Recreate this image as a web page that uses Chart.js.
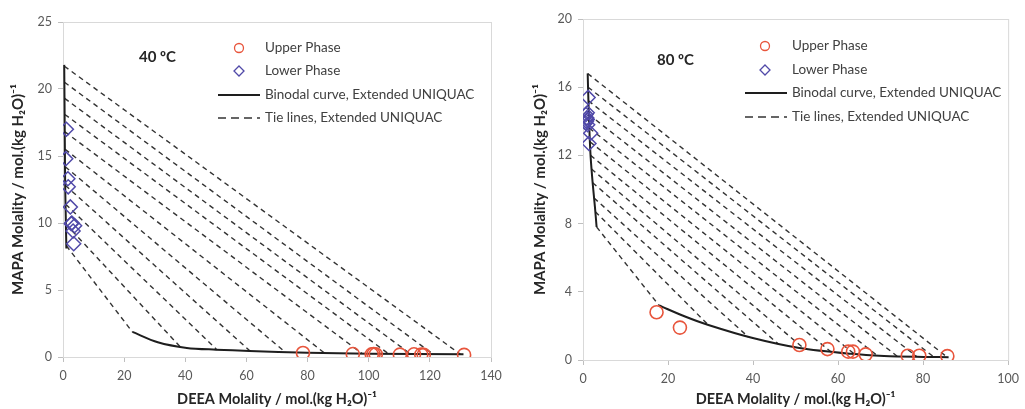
<!DOCTYPE html>
<html>
<head>
<meta charset="utf-8">
<script src="https://cdn.jsdelivr.net/npm/chart.js@4.4.1/dist/chart.umd.min.js"></script>
<style>
  body { margin: 0; background: #fff; }
  .panel { position: absolute; top: 0; height: 409px; }
  #panel40 { left: 0; width: 512px; }
  #panel80 { left: 512px; width: 513px; }
</style>
</head>
<body>
<div class="panel" id="panel40"><canvas id="chart40"></canvas></div>
<div class="panel" id="panel80"><canvas id="chart80"></canvas></div>
<script>
// ---- 40 °C ----
const upper40X = [78.5, 94.8, 101.0, 101.6, 102.3, 110.2, 114.8, 117.2, 118.0, 131.2];
const upper40Y = [0.30, 0.22, 0.20, 0.22, 0.20, 0.18, 0.20, 0.18, 0.16, 0.16];
const lower40X = [1.1, 0.9, 1.6, 1.7, 2.4, 2.7, 3.8, 3.3, 3.5, 2.9];
const lower40Y = [17.0, 14.8, 13.3, 12.7, 11.2, 9.95, 9.8, 9.4, 8.45, 10.0];
// binodal curve, two branches
const binodal40LeftX = [0.4, 0.5, 0.6, 0.7, 0.9, 1.1];
const binodal40LeftY = [21.8, 19.0, 16.0, 13.0, 10.5, 8.1];
const binodal40LowX = [22.7, 31, 40.5, 50, 61, 80, 100, 131];
const binodal40LowY = [1.87, 1.1, 0.68, 0.55, 0.45, 0.32, 0.25, 0.2];
// tie line end points
const tie40LowerX = [0.45, 0.5, 0.55, 0.6, 0.65, 0.7, 0.75, 0.8, 0.9, 1.0, 1.1];
const tie40LowerY = [21.7, 20.5, 19.3, 18.1, 16.8, 15.5, 14.2, 12.8, 11.4, 9.9, 8.3];
const tie40UpperX = [130, 121, 113.7, 106.5, 97.8, 85.5, 72.7, 61.2, 50.3, 38.5, 22.7];
const tie40UpperY = [0.2, 0.22, 0.22, 0.24, 0.26, 0.3, 0.36, 0.45, 0.55, 0.72, 1.87];

// ---- 80 °C ----
const upper80X = [17.3, 22.8, 50.9, 57.5, 62.4, 63.5, 66.5, 76.4, 79.1, 85.7];
const upper80Y = [2.8, 1.9, 0.88, 0.64, 0.49, 0.49, 0.33, 0.25, 0.25, 0.23];
const lower80X = [1.2, 1.0, 0.9, 0.6, 1.1, 1.8, 1.4, 0.8, 1.0, 0.7];
const lower80Y = [15.4, 14.5, 14.2, 13.9, 13.8, 13.3, 12.7, 14.0, 14.1, 14.4];
const binodal80LeftX = [1.1, 1.3, 1.5, 1.8, 2.3, 2.8, 3.2];
const binodal80LeftY = [16.8, 15.0, 13.5, 11.9, 10.3, 9.0, 7.8];
const binodal80LowX = [17.9, 24, 29.5, 39.7, 50.9, 63, 70.8, 81.3, 86];
const binodal80LowY = [3.2, 2.55, 2.05, 1.3, 0.7, 0.36, 0.24, 0.18, 0.16];
const tie80LowerX = [1.1, 1.2, 1.28, 1.38, 1.49, 1.63, 1.78, 2.0, 2.27, 2.6, 2.9, 3.2];
const tie80LowerY = [16.8, 16.0, 15.2, 14.4, 13.6, 12.8, 12.0, 11.2, 10.4, 9.5, 8.7, 7.8];
const tie80UpperX = [85.5, 82.4, 78.5, 73.9, 69.2, 63.8, 58.3, 52.1, 45.9, 38.9, 29.5, 17.9];
const tie80UpperY = [0.2, 0.2, 0.2, 0.22, 0.26, 0.36, 0.48, 0.65, 0.95, 1.35, 2.05, 3.2];

const legendLabels = ['Upper Phase', 'Lower Phase', 'Binodal curve, Extended UNIQUAC', 'Tie lines, Extended UNIQUAC'];
const xTitle = 'DEEA Molality / mol.(kg H\u2082O)\u207B\u00B9';
const yTitle = 'MAPA Molality / mol.(kg H\u2082O)\u207B\u00B9';

const UPPER_COLOR = '#e8553c';
const LOWER_COLOR = '#5049a8';
const LINE_COLOR = '#1e1e1e';
const TIE_COLOR = '#333333';
const AXIS_COLOR = '#bfbfbf';

Chart.defaults.font.family = 'Lato, "Open Sans", sans-serif';
Chart.defaults.color = '#595959';

function zip(xs, ys) {
    return xs.map(function(x, i) { return {x: x, y: ys[i]}; });
}

// light box around the plot area
var plotFrame = {
    id: 'plotFrame',
    beforeDatasetsDraw: function(chart) {
        var a = chart.chartArea, ctx = chart.ctx;
        ctx.save();
        ctx.strokeStyle = '#d9d9d9';
        ctx.lineWidth = 1;
        ctx.strokeRect(a.left + 0.5, a.top + 0.5, a.right - a.left, a.bottom - a.top);
        ctx.restore();
    }
};

// temperature label and legend inside the plot
var phaseLegend = {
    id: 'phaseLegend',
    afterDraw: function(chart, args, opts) {
        var ctx = chart.ctx;
        ctx.save();
        ctx.textBaseline = 'middle';
        ctx.font = 'bold 15px Lato';
        ctx.fillStyle = '#262626';
        ctx.fillText(opts.temp, opts.tempX, opts.tempY);

        ctx.font = '13.5px Lato';
        ctx.fillStyle = '#404040';
        var x = opts.x, mx = opts.markerX;
        opts.rows.forEach(function(y, i) {
            ctx.fillText(legendLabels[i], x, y);
        });
        ctx.lineWidth = 1.3;
        // circle
        ctx.strokeStyle = UPPER_COLOR;
        ctx.beginPath();
        ctx.arc(mx, opts.rows[0], 4.5, 0, Math.PI * 2);
        ctx.stroke();
        // diamond
        ctx.strokeStyle = LOWER_COLOR;
        ctx.beginPath();
        ctx.moveTo(mx, opts.rows[1] - 5);
        ctx.lineTo(mx + 5, opts.rows[1]);
        ctx.lineTo(mx, opts.rows[1] + 5);
        ctx.lineTo(mx - 5, opts.rows[1]);
        ctx.closePath();
        ctx.stroke();
        // solid and dashed lines
        ctx.strokeStyle = LINE_COLOR;
        ctx.lineWidth = 2;
        ctx.beginPath();
        ctx.moveTo(opts.lineFrom, opts.rows[2]);
        ctx.lineTo(opts.lineTo, opts.rows[2]);
        ctx.stroke();
        ctx.strokeStyle = TIE_COLOR;
        ctx.lineWidth = 1.4;
        ctx.setLineDash([8, 5]);
        ctx.beginPath();
        ctx.moveTo(opts.lineFrom, opts.rows[3]);
        ctx.lineTo(opts.lineTo, opts.rows[3]);
        ctx.stroke();
        ctx.restore();
    }
};

function buildChart(canvasId, d, box) {
    var datasets = [{
        label: legendLabels[0],
        data: zip(d.upperX, d.upperY),
        pointStyle: 'circle',
        pointRadius: 6.5,
        pointBorderWidth: 1.6,
        pointBorderColor: UPPER_COLOR,
        pointBackgroundColor: 'rgba(0,0,0,0)'
    }, {
        label: legendLabels[1],
        data: zip(d.lowerX, d.lowerY),
        pointStyle: 'rectRot',
        pointRadius: 7,
        pointBorderWidth: 1.5,
        pointBorderColor: LOWER_COLOR,
        pointBackgroundColor: 'rgba(0,0,0,0)'
    }, {
        label: legendLabels[2],
        data: zip(d.binLeftX, d.binLeftY),
        showLine: true,
        borderColor: LINE_COLOR,
        borderWidth: 2,
        pointRadius: 0,
        tension: 0.3
    }, {
        label: legendLabels[2],
        data: zip(d.binLowX, d.binLowY),
        showLine: true,
        borderColor: LINE_COLOR,
        borderWidth: 2,
        pointRadius: 0,
        tension: 0.3
    }];
    for (var i = 0; i < d.tieLowerX.length; i++) {
        datasets.push({
            label: legendLabels[3],
            data: [{x: d.tieLowerX[i], y: d.tieLowerY[i]}, {x: d.tieUpperX[i], y: d.tieUpperY[i]}],
            showLine: true,
            borderColor: TIE_COLOR,
            borderWidth: 1.4,
            borderDash: [5, 4],
            pointRadius: 0
        });
    }

    return new Chart(document.getElementById(canvasId).getContext('2d'), {
        type: 'scatter',
        data: {datasets: datasets},
        plugins: [plotFrame, phaseLegend],
        options: {
            responsive: true,
            maintainAspectRatio: false,
            animation: false,
            layout: {padding: {left: 0, right: box.padRight, top: box.padTop, bottom: 0}},
            plugins: {
                legend: {display: false},
                tooltip: {enabled: false},
                phaseLegend: box.legend
            },
            scales: {
                x: {
                    type: 'linear',
                    min: 0,
                    max: d.xMax,
                    ticks: {stepSize: 20, padding: 6, font: {size: 12.5}},
                    grid: {drawOnChartArea: false, tickLength: 5, color: AXIS_COLOR},
                    border: {color: AXIS_COLOR},
                    title: {display: true, text: xTitle, color: '#262626', padding: {top: 0, bottom: 1},
                            font: {size: 14.5, weight: 'bold'}},
                    afterFit: function(scale) { scale.height = box.xHeight; }
                },
                y: {
                    type: 'linear',
                    min: 0,
                    max: d.yMax,
                    ticks: {stepSize: d.yStep, padding: 6, font: {size: 12.5}},
                    grid: {drawOnChartArea: false, tickLength: 5, color: AXIS_COLOR},
                    border: {color: AXIS_COLOR},
                    title: {display: true, text: yTitle, color: '#262626', padding: {top: box.yTitlePad, bottom: 0},
                            font: {size: 15, weight: 'bold'}},
                    afterFit: function(scale) { scale.width = box.yWidth; }
                }
            }
        }
    });
}

var chart40 = buildChart('chart40', {
    upperX: upper40X, upperY: upper40Y, lowerX: lower40X, lowerY: lower40Y,
    binLeftX: binodal40LeftX, binLeftY: binodal40LeftY, binLowX: binodal40LowX, binLowY: binodal40LowY,
    tieLowerX: tie40LowerX, tieLowerY: tie40LowerY, tieUpperX: tie40UpperX, tieUpperY: tie40UpperY,
    xMax: 140, yMax: 25, yStep: 5
}, {
    padRight: 21, padTop: 22, xHeight: 52, yWidth: 63, yTitlePad: 9,
    legend: {temp: '40 \u00BAC', tempX: 139, tempY: 57, x: 265, markerX: 239,
             rows: [48, 71, 95, 118], lineFrom: 218, lineTo: 260}
});

var chart80 = buildChart('chart80', {
    upperX: upper80X, upperY: upper80Y, lowerX: lower80X, lowerY: lower80Y,
    binLeftX: binodal80LeftX, binLeftY: binodal80LeftY, binLowX: binodal80LowX, binLowY: binodal80LowY,
    tieLowerX: tie80LowerX, tieLowerY: tie80LowerY, tieUpperX: tie80UpperX, tieUpperY: tie80UpperY,
    xMax: 100, yMax: 20, yStep: 4
}, {
    padRight: 13, padTop: 19, xHeight: 49, yWidth: 71, yTitlePad: 19,
    legend: {temp: '80 \u00BAC', tempX: 145, tempY: 60, x: 280, markerX: 253,
             rows: [46, 70, 93, 117], lineFrom: 233, lineTo: 275}
});
</script>
</body>
</html>
